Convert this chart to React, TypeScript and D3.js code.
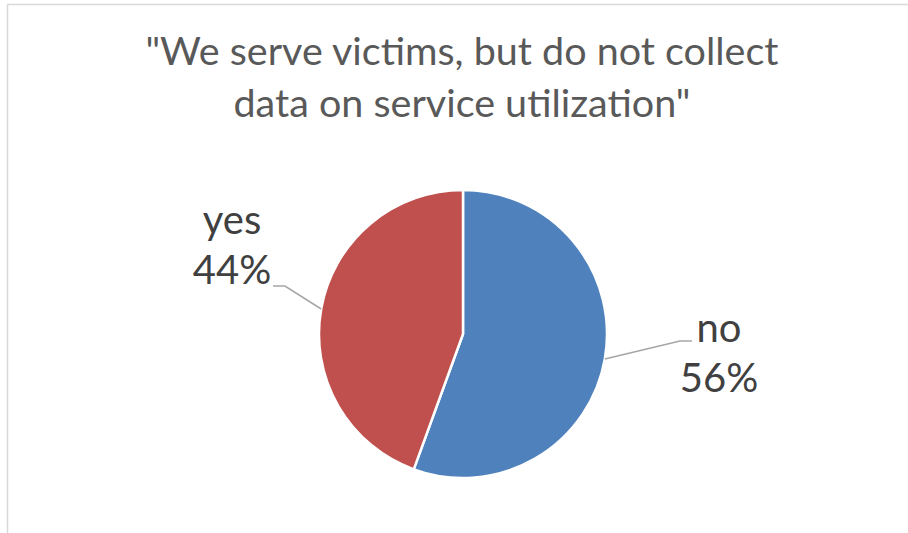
import React from "react";
import * as d3 from "d3";

const categories = ["no", "yes"];
const values = [10, 8];
const percentLabels = ["56%", "44%"];
const titleLines = ['"We serve victims, but do not collect', 'data on service utilization"'];
const colors = ["#4F81BD", "#C0504D"];

const W = 908;
const H = 533;
const cx = 463;
const cy = 334;
const R = 144;
const FONT = "Lato, 'Open Sans', sans-serif";

// label anchor positions (layout)
const labelPos = [
  { x: 719, y: 342, elbow: [680, 341], end: [692, 341] },
  { x: 232, y: 234, elbow: [285, 286], end: [273, 286] },
];

export default function App() {
  const pie = d3
    .pie<number>()
    .sort(null)
    .value((d) => d);
  const arcs = pie(values);
  const arc = d3.arc<d3.PieArcDatum<number>>().innerRadius(0).outerRadius(R);
  const edge = d3.arc<d3.PieArcDatum<number>>().innerRadius(R).outerRadius(R);

  return (
    <svg
      width={W}
      height={H}
      style={{ position: "absolute", left: 0, top: 0, background: "#fff" }}
    >
      <rect x={7.5} y={4.5} width={W + 20} height={H + 20} fill="#fff" stroke="#d9d9d9" strokeWidth={1.5} />
      <g fontFamily={FONT} fill="#595959" fontSize={39.5} textAnchor="middle">
        {titleLines.map((t, i) => (
          <text key={i} x={462} y={65 + i * 52}>
            {t}
          </text>
        ))}
      </g>
      <g transform={`translate(${cx},${cy})`}>
        {arcs.map((a, i) => (
          <path key={i} d={arc(a) || ""} fill={colors[i]} stroke="#fff" strokeWidth={2.5} strokeLinejoin="round" />
        ))}
      </g>
      {arcs.map((a, i) => {
        const [ex, ey] = edge.centroid(a);
        const lp = labelPos[i];
        const pts = [
          [cx + ex, cy + ey],
          lp.elbow,
          lp.end,
        ];
        return (
          <polyline
            key={"l" + i}
            points={pts.map((p) => p.join(",")).join(" ")}
            fill="none"
            stroke="#a6a6a6"
            strokeWidth={1.5}
          />
        );
      })}
      <g fontFamily={FONT} fill="#404040" fontSize={40} textAnchor="middle">
        {categories.map((c, i) => (
          <g key={c}>
            <text x={labelPos[i].x} y={labelPos[i].y}>
              {c}
            </text>
            <text x={labelPos[i].x} y={labelPos[i].y + 50}>
              {percentLabels[i]}
            </text>
          </g>
        ))}
      </g>
    </svg>
  );
}
